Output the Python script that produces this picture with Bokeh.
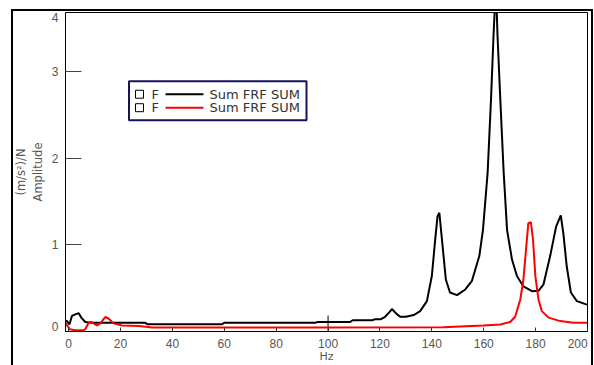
from bokeh.plotting import figure
from bokeh.models import Range1d, FixedTicker, Label, BoxAnnotation
from bokeh.embed import file_html
from bokeh.resources import INLINE

# ---------------- data ----------------
hz_black = [-1.2, -0.6, 0.3, 1.3, 2.8, 3.9, 4.9, 6.4, 9, 15, 20, 25, 29.5, 30.5,
            40, 50, 59, 60, 70, 80, 90, 95, 96, 105, 108.5, 109.5, 117, 118,
            120.2, 122, 124, 124.6, 126.5, 127.8, 130, 133, 135.5, 138.1, 140,
            141.3, 142.2, 142.9, 143.9, 145.4, 147, 149.7, 152.9, 155.4, 158.3,
            159.7, 161.5, 162.8, 163.8, 164.7, 165.3, 166.4, 167.7, 169, 170.9,
            172.8, 175.3, 178.6, 181.1, 183, 185.6, 187.9, 189.7, 190.7, 192,
            193.6, 195.9, 199.8]
amp_black = [0.12, 0.12, 0.08, 0.18, 0.20, 0.21, 0.16, 0.11, 0.10, 0.10, 0.10, 0.10, 0.10, 0.083,
             0.083, 0.083, 0.083, 0.10, 0.10, 0.10, 0.10, 0.10, 0.11, 0.11, 0.11, 0.13, 0.13, 0.14,
             0.14, 0.17, 0.235, 0.26, 0.20, 0.17, 0.17, 0.19, 0.235, 0.35, 0.64,
             1.06, 1.33, 1.37, 1.06, 0.60, 0.45, 0.42, 0.485, 0.58, 0.87,
             1.17, 1.83, 2.67, 3.43, 4.0, 3.43, 2.67, 1.83, 1.17, 0.83,
             0.64, 0.52, 0.465, 0.47, 0.54, 0.87, 1.21, 1.34, 1.13, 0.75,
             0.45, 0.35, 0.31]

hz_red = [-1.2, -0.6, 0.5, 2.6, 5.7, 6.4, 7.7, 8.7, 10.9, 12.2, 14.1, 15.4, 17.3,
          20.6, 26.9, 30.7, 32, 60, 100, 144.4, 159.8, 166.4, 170.2, 172.1, 174.1,
          175.3, 176.4, 177.2, 178.2, 179, 179.9, 181.1, 182.4, 185, 189.5, 194.6, 199.8]
amp_red = [0.10, 0.07, 0.025, 0.015, 0.015, 0.025, 0.10, 0.11, 0.07, 0.094, 0.167, 0.15, 0.094,
           0.07, 0.063, 0.052, 0.045, 0.045, 0.045, 0.05, 0.07, 0.08, 0.11, 0.17, 0.37,
           0.60, 0.98, 1.25, 1.26, 1.06, 0.64, 0.37, 0.235, 0.16, 0.12, 0.10, 0.10]

series_colors = ["black", "red"]
legend_prefix = ["F", "F"]
legend_labels = ["Sum FRF SUM", "Sum FRF SUM"]

# tick marks and tick labels (labels at the ends are pulled inside the frame,
# as in the reference)
x_tick_marks = [0, 20, 40, 60, 80, 100, 120, 140, 160, 180, 200]
x_label_pos = [0, 20, 40, 60, 80, 100, 120, 140, 160, 180, 196.2]
x_label_txt = ["0", "20", "40", "60", "80", "100", "120", "140", "160", "180", "200"]
x_long_ticks = [100]
y_tick_marks = [1, 2, 3]
y_label_pos = [0.055, 1, 2, 3, 3.62]
y_label_txt = ["0", "1", "2", "3", "4"]
x_title = "Hz"
y_title = "(m/s\u00b2)/N\nAmplitude"

# ---------------- layout constants ----------------
X0, X1 = -1.2, 200.0
Y0, Y1 = 0.0, 3.68
W, H = 594, 365
ML, MR, MT, MB = 65, 7, 12, 33
FW = W - ML - MR
FH = H - MT - MB

def dx(px):  # canvas pixel x -> data x
    return X0 + (px - ML) * (X1 - X0) / FW

def dy(py):  # canvas pixel y -> data y
    return Y1 - (py - MT) * (Y1 - Y0) / FH

TICK_FONT = "Liberation Sans"
TEXT_FONT = "DejaVu Sans"
GRAY = "#555555"
NAVY = "#14145e"

p = figure(width=W, height=H, x_range=Range1d(X0, X1), y_range=Range1d(Y0, Y1),
           output_backend="svg", toolbar_location=None,
           min_border_left=ML, min_border_right=MR, min_border_top=MT, min_border_bottom=MB)
p.title.visible = False
p.background_fill_color = "white"
p.border_fill_color = None
p.outline_line_color = "black"
p.outline_line_width = 1
p.xgrid.visible = False
p.ygrid.visible = False

# outer figure frame (left, top and right lines; bottom lies below the window)
p.styles = {
    "background-color": "white",
    "background-image": ("linear-gradient(#000,#000), linear-gradient(#000,#000), "
                         "linear-gradient(#000,#000)"),
    "background-repeat": "no-repeat",
    "background-position": "11px 9px, 11px 9px, 591px 9px",
    "background-size": "2px 400px, 582px 2px, 2px 400px",
}

xa = p.xaxis[0]
xa.ticker = FixedTicker(ticks=x_label_pos, minor_ticks=x_tick_marks)
xa.major_label_overrides = dict(zip(x_label_pos, x_label_txt))
xa.major_tick_in = 0
xa.major_tick_out = 0
xa.minor_tick_in = 4
xa.minor_tick_out = 0
xa.minor_tick_line_color = "#333333"
xa.axis_line_color = "black"
xa.major_label_standoff = 7
xa.major_label_text_font = TICK_FONT
xa.major_label_text_font_size = "12px"
xa.major_label_text_color = GRAY
xa.axis_label = x_title
xa.axis_label_standoff = -1
xa.axis_label_text_font = TEXT_FONT
xa.axis_label_text_font_style = "normal"
xa.axis_label_text_font_size = "11px"
xa.axis_label_text_color = GRAY

ya = p.yaxis[0]
ya.ticker = FixedTicker(ticks=y_label_pos, minor_ticks=y_tick_marks)
ya.major_label_overrides = dict(zip(y_label_pos, y_label_txt))
ya.major_tick_in = 0
ya.major_tick_out = 0
ya.minor_tick_in = 16
ya.minor_tick_out = 0
ya.minor_tick_line_color = "#444444"
ya.axis_line_color = "black"
ya.major_label_standoff = 7
ya.major_label_text_font = TICK_FONT
ya.major_label_text_font_size = "12px"
ya.major_label_text_color = GRAY
ya.axis_label = y_title
ya.axis_label_standoff = 4
ya.axis_label_text_font = TEXT_FONT
ya.axis_label_text_font_style = "normal"
ya.axis_label_text_font_size = "11.5px"
ya.axis_label_text_color = GRAY

# long tick at 100 Hz
p.segment(x0=x_long_ticks, y0=[Y0] * len(x_long_ticks), x1=x_long_ticks,
          y1=[Y0 + 16 * (Y1 - Y0) / FH] * len(x_long_ticks), line_color="black", line_width=1)

# curves
p.line(hz_black, amp_black, line_color=series_colors[0], line_width=2)
p.line(hz_red, amp_red, line_color=series_colors[1], line_width=2)

# legend
p.add_layout(BoxAnnotation(left=dx(128.5), right=dx(306), top=dy(81), bottom=dy(120),
                           fill_color="white", fill_alpha=1, line_color=NAVY,
                           line_alpha=1, line_width=2))
for row_y, col, pre, lab in zip([94, 107.5], series_colors, legend_prefix, legend_labels):
    p.add_layout(BoxAnnotation(left=dx(135), right=dx(143), top=dy(row_y - 4), bottom=dy(row_y + 4),
                               fill_color="white", fill_alpha=1, line_color="black",
                               line_alpha=1, line_width=1))
    p.add_layout(BoxAnnotation(left=dx(165), right=dx(203), top=dy(row_y - 1), bottom=dy(row_y + 1),
                               fill_color=col, fill_alpha=1, line_alpha=0))
    p.add_layout(Label(x=dx(151), y=dy(row_y), text=pre, text_align="left",
                       text_baseline="middle", text_font=TEXT_FONT, text_font_size="13px",
                       text_color="#333333"))
    p.add_layout(Label(x=dx(209), y=dy(row_y), text=lab, text_align="left",
                       text_baseline="middle", text_font=TEXT_FONT, text_font_size="13px",
                       text_color="#333333"))

open("out.html", "w").write(file_html(p, INLINE))
